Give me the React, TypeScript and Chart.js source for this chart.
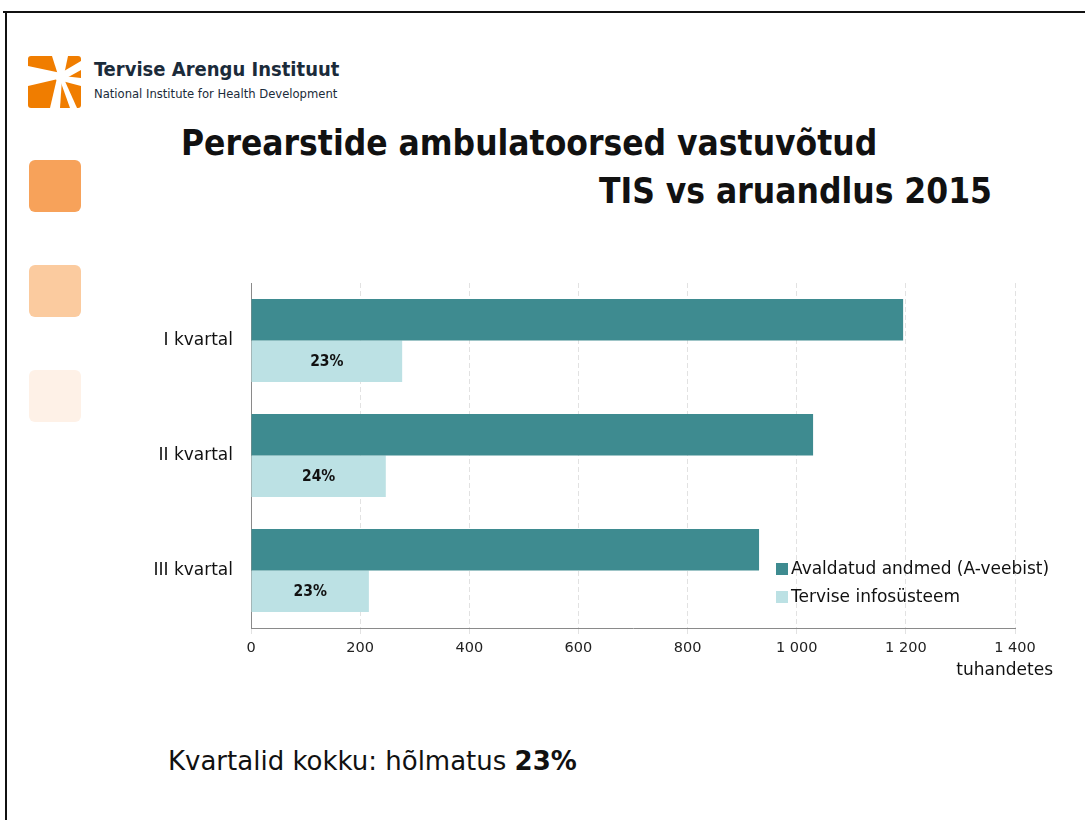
import React, { useEffect, useRef } from "react";
import { Chart, registerables } from "chart.js";

Chart.register(...registerables);

const categories = ["I kvartal", "II kvartal", "III kvartal"];
const publishedValues = [1195, 1030, 931];
const tisValues = [277, 247, 216];
const seriesLabels = ["Avaldatud andmed (A-veebist)", "Tervise infosüsteem"];
const xTicks = [0, 200, 400, 600, 800, 1000, 1200, 1400];
const axisUnit = "tuhandetes";

const TEAL = "#3E8B90";
const LIGHT = "#BCE1E4";
const COND = "'DejaVu Sans Condensed', 'DejaVu Sans', sans-serif";
const SANS = "'DejaVu Sans', sans-serif";

const fmt = (v: number) => String(v).replace(/\B(?=(\d{3})+(?!\d))/g, " ");

const overlayPlugin = {
  id: "overlay",
  afterDatasetsDraw(chart: any) {
    const ctx = chart.ctx;
    const area = chart.chartArea;
    ctx.save();
    const meta = chart.getDatasetMeta(1);
    ctx.font = `bold 15.5px ${COND}`;
    ctx.fillStyle = "#111";
    ctx.textAlign = "center";
    ctx.textBaseline = "middle";
    meta.data.forEach((el: any, i: number) => {
      const p = el.getProps(["x", "y", "base"], true);
      const pct = Math.round((tisValues[i] / publishedValues[i]) * 100);
      ctx.fillText(pct + "%", (p.x + p.base) / 2, p.y + 1);
    });
    const lx = area.right - 239;
    const ys = [area.bottom - 59, area.bottom - 31];
    const cols = [TEAL, LIGHT];
    ctx.font = `17px ${SANS}`;
    ctx.textAlign = "left";
    chart.data.datasets.forEach((ds: any, i: number) => {
      ctx.fillStyle = cols[i];
      ctx.fillRect(lx, ys[i] - 6, 12, 12);
      ctx.fillStyle = "#111";
      ctx.fillText(ds.label, lx + 15, ys[i] + 1);
    });
    ctx.textAlign = "right";
    ctx.font = `17px ${SANS}`;
    ctx.fillText(axisUnit, area.right + 38, area.bottom + 43);
    ctx.restore();
  },
};

function ChartBox() {
  const ref = useRef<HTMLCanvasElement>(null);
  useEffect(() => {
    if (!ref.current) return;
    const chart = new Chart(ref.current, {
      type: "bar",
      data: {
        labels: categories,
        datasets: [
          {
            label: seriesLabels[0],
            data: publishedValues,
            backgroundColor: TEAL,
            categoryPercentage: 0.72,
            barPercentage: 1,
          },
          {
            label: seriesLabels[1],
            data: tisValues,
            backgroundColor: LIGHT,
            categoryPercentage: 0.72,
            barPercentage: 1,
          },
        ],
      },
      options: {
        indexAxis: "y",
        animation: false,
        responsive: false,
        maintainAspectRatio: false,
        layout: { padding: { left: 0, right: 55, top: 13, bottom: 0 } },
        plugins: { legend: { display: false }, tooltip: { enabled: false } },
        scales: {
          x: {
            min: 0,
            max: 1400,
            afterBuildTicks: (s: any) => {
              s.ticks = xTicks.map((v) => ({ value: v }));
            },
            afterFit: (s: any) => {
              s.height = 62;
            },
            ticks: {
              color: "#222",
              font: { family: SANS, size: 14.5 },
              padding: 6,
              maxRotation: 0,
              callback: (v: any) => fmt(Number(v)),
            },
            grid: {
              color: (c: any) => (c.tick && c.tick.value === 0 ? "rgba(0,0,0,0)" : "#E2E2E2"),
              lineWidth: 1,
              drawTicks: true,
              tickLength: 6,
              tickColor: "#E2E2E2",
            },
            border: { display: true, color: "#8A8A8A", width: 1, dash: [5, 3] },
          },
          y: {
            afterFit: (s: any) => {
              s.width = 111;
              s.paddingTop = 0;
              s.paddingBottom = 0;
            },
            ticks: {
              color: "#111",
              font: { family: SANS, size: 17 },
              padding: 18,
            },
            grid: { display: false, drawTicks: false },
            border: { display: true, color: "#8A8A8A", width: 1 },
          },
        },
      },
      plugins: [overlayPlugin],
    } as any);
    return () => chart.destroy();
  }, []);
  return (
    <canvas
      ref={ref}
      width={930}
      height={420}
      style={{ position: "absolute", left: 140, top: 270, width: 930, height: 420 }}
    />
  );
}

function Logo() {
  return (
    <div style={{ position: "absolute", left: 28, top: 56 }}>
      <svg width={53} height={52} viewBox="0 0 53 52" style={{ position: "absolute", left: 0, top: 0 }}>
        <rect x={0} y={0} width={53} height={52} rx={3} fill="#F07D00" />
        <polygon points="0,10 0,30 30,23 33,17" fill="#fff" />
        <polygon points="24,0 40,0 36,19 30,19" fill="#fff" />
        <polygon points="53,5 53,14 35,24 31,18" fill="#fff" />
        <polygon points="53,22 53,30 34,25 35,20" fill="#fff" />
        <polygon points="42,52 49,52 36,23 32,24" fill="#fff" />
        <polygon points="22,52 32,52 34,23 29,22" fill="#fff" />
        <circle cx={33} cy={21} r={5.5} fill="#fff" />
      </svg>
      <div
        style={{
          position: "absolute",
          left: 66,
          top: 2,
          whiteSpace: "nowrap",
          fontFamily: COND,
          fontWeight: 600,
          fontSize: 20,
          color: "#1B2B3A",
          lineHeight: "22px",
        }}
      >
        Tervise Arengu Instituut
      </div>
      <div
        style={{
          position: "absolute",
          left: 66,
          top: 31,
          whiteSpace: "nowrap",
          fontFamily: COND,
          fontSize: 12.9,
          color: "#1B2B3A",
          lineHeight: "14px",
        }}
      >
        National Institute for Health Development
      </div>
    </div>
  );
}

export default function App() {
  const sq = (top: number, color: string) => (
    <div
      style={{
        position: "absolute",
        left: 29,
        top,
        width: 52,
        height: 52,
        borderRadius: 6,
        background: color,
      }}
    />
  );
  return (
    <div
      style={{
        position: "absolute",
        left: 0,
        top: 0,
        width: 1085,
        height: 820,
        background: "#fff",
        overflow: "hidden",
        fontFamily: SANS,
      }}
    >
      <div style={{ position: "absolute", left: 3, top: 11, width: 1090, height: 2, background: "#111" }} />
      <div style={{ position: "absolute", left: 5, top: 11, width: 2, height: 820, background: "#111" }} />
      <Logo />
      {sq(160, "#F7A25A")}
      {sq(265, "#FBCB9F")}
      {sq(370, "#FEF1E7")}
      <div
        style={{
          position: "absolute",
          left: 181,
          top: 121,
          fontFamily: COND,
          fontWeight: "bold",
          fontSize: 35,
          color: "#111",
          whiteSpace: "nowrap",
          lineHeight: "44px",
        }}
      >
        Perearstide ambulatoorsed vastuvõtud
      </div>
      <div
        style={{
          position: "absolute",
          right: 1085 - 992,
          top: 169,
          fontFamily: COND,
          fontWeight: "bold",
          fontSize: 35,
          color: "#111",
          whiteSpace: "nowrap",
          lineHeight: "44px",
        }}
      >
        TIS vs aruandlus 2015
      </div>
      <ChartBox />
      <div
        style={{
          position: "absolute",
          left: 168,
          top: 744,
          fontFamily: SANS,
          fontSize: 26,
          color: "#111",
          whiteSpace: "nowrap",
          lineHeight: "34px",
        }}
      >
        Kvartalid kokku: hõlmatus <b>23%</b>
      </div>
    </div>
  );
}
